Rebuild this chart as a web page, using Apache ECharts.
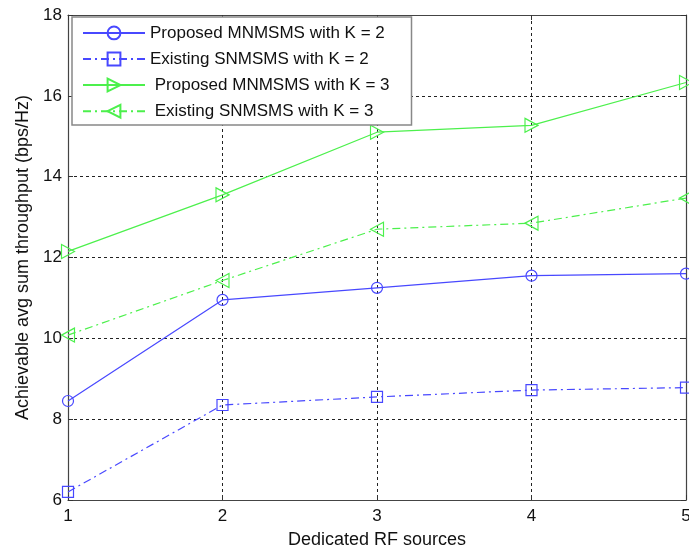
<!DOCTYPE html>
<html>
<head>
<meta charset="utf-8">
<script src="https://cdn.jsdelivr.net/npm/echarts@6/dist/echarts.min.js"></script>
<style>
  html, body { margin: 0; padding: 0; background: #fff; overflow: hidden; }
  #chart { width: 689px; height: 553px; }
</style>
</head>
<body>
<div id="chart"></div>
<script>
// Dedicated RF sources on the x axis
const rfSources = [1, 2, 3, 4, 5];

// Achievable average sum throughput (bps/Hz)
const proposedK2 = [8.45, 10.95, 11.25, 11.55, 11.6];
const existingK2 = [6.2, 8.35, 8.55, 8.72, 8.78];
const proposedK3 = [12.15, 13.55, 15.1, 15.27, 16.33];
const existingK3 = [10.08, 11.43, 12.7, 12.85, 13.47];

const yTicks = { min: 6, max: 18, step: 2 };
const xTicks = { min: 1, max: 5, step: 1 };

const seriesNames = [
  'Proposed MNMSMS with K = 2',
  'Existing SNMSMS with K = 2',
  ' Proposed MNMSMS with K = 3',
  ' Existing SNMSMS with K = 3'
];

const BLUE = '#4848ff';
const GREEN = '#4cf04c';
const FONT = '"Liberation Sans", Arial, sans-serif';
const DASH_DOT = [8, 4, 2, 4];

function pairs(values) {
  return rfSources.map((x, i) => [x, values[i]]);
}

function lineSeries(name, values, color, solid, symbol, rotate, size) {
  return {
    name: name,
    type: 'line',
    data: pairs(values),
    symbol: symbol,
    symbolRotate: rotate,
    symbolSize: size,
    showAllSymbol: true,
    clip: false,
    lineStyle: { color: color, width: 1.2, type: solid ? 'solid' : DASH_DOT },
    itemStyle: { color: 'none', borderColor: color, borderWidth: 1.2 },
    emphasis: { disabled: true },
    z: 3
  };
}

const chart = echarts.init(document.getElementById('chart'), null, { renderer: 'canvas', width: 689, height: 553 });

const tickCommon = { show: true, inside: true, length: 5, lineStyle: { color: '#333', width: 1 } };
const axisLineCommon = { show: true, lineStyle: { color: '#444', width: 1.2 } };

chart.setOption({
  animation: false,
  backgroundColor: '#fff',
  grid: { left: 68, top: 15, right: 3, bottom: 53, show: false, containLabel: false, outerBoundsMode: 'none' },
  legend: {
    orient: 'vertical',
    left: 72,
    top: 17,
    padding: [7, 22, 5, 10],
    itemWidth: 62,
    itemHeight: 16,
    itemGap: 8.3,
    backgroundColor: '#fff',
    borderColor: '#888',
    borderWidth: 1.5,
    borderRadius: 0,
    textStyle: { fontFamily: FONT, fontSize: 17, color: '#111' },
    data: seriesNames
  },
  xAxis: [
    {
      type: 'value',
      min: xTicks.min, max: xTicks.max, interval: xTicks.step,
      name: 'Dedicated RF sources',
      nameLocation: 'middle',
      nameGap: 31,
      nameTextStyle: { fontFamily: FONT, fontSize: 18, color: '#111' },
      axisLine: axisLineCommon,
      axisTick: tickCommon,
      axisLabel: { margin: 8, fontFamily: FONT, fontSize: 17, color: '#111' },
      splitLine: { show: true, lineStyle: { color: '#222', width: 1, type: [3, 3] } }
    },
    {
      type: 'value', position: 'top',
      min: xTicks.min, max: xTicks.max, interval: xTicks.step,
      axisLine: axisLineCommon,
      axisTick: tickCommon,
      axisLabel: { show: false },
      splitLine: { show: false }
    }
  ],
  yAxis: [
    {
      type: 'value',
      min: yTicks.min, max: yTicks.max, interval: yTicks.step,
      name: 'Achievable avg sum throughput (bps/Hz)',
      nameLocation: 'middle',
      nameGap: 35,
      nameTextStyle: { fontFamily: FONT, fontSize: 18, color: '#111' },
      axisLine: axisLineCommon,
      axisTick: tickCommon,
      axisLabel: { margin: 6, fontFamily: FONT, fontSize: 17, color: '#111' },
      splitLine: { show: true, lineStyle: { color: '#222', width: 1, type: [3, 3] } }
    },
    {
      type: 'value', position: 'right',
      min: yTicks.min, max: yTicks.max, interval: yTicks.step,
      axisLine: axisLineCommon,
      axisTick: tickCommon,
      axisLabel: { show: false },
      splitLine: { show: false }
    }
  ],
  series: [
    lineSeries(seriesNames[0], proposedK2, BLUE, true, 'circle', 0, 11),
    lineSeries(seriesNames[1], existingK2, BLUE, false, 'rect', 0, 11),
    lineSeries(seriesNames[2], proposedK3, GREEN, true, 'triangle', -90, [14, 13]),
    lineSeries(seriesNames[3], existingK3, GREEN, false, 'triangle', 90, [14, 13])
  ]
});
</script>
</body>
</html>
